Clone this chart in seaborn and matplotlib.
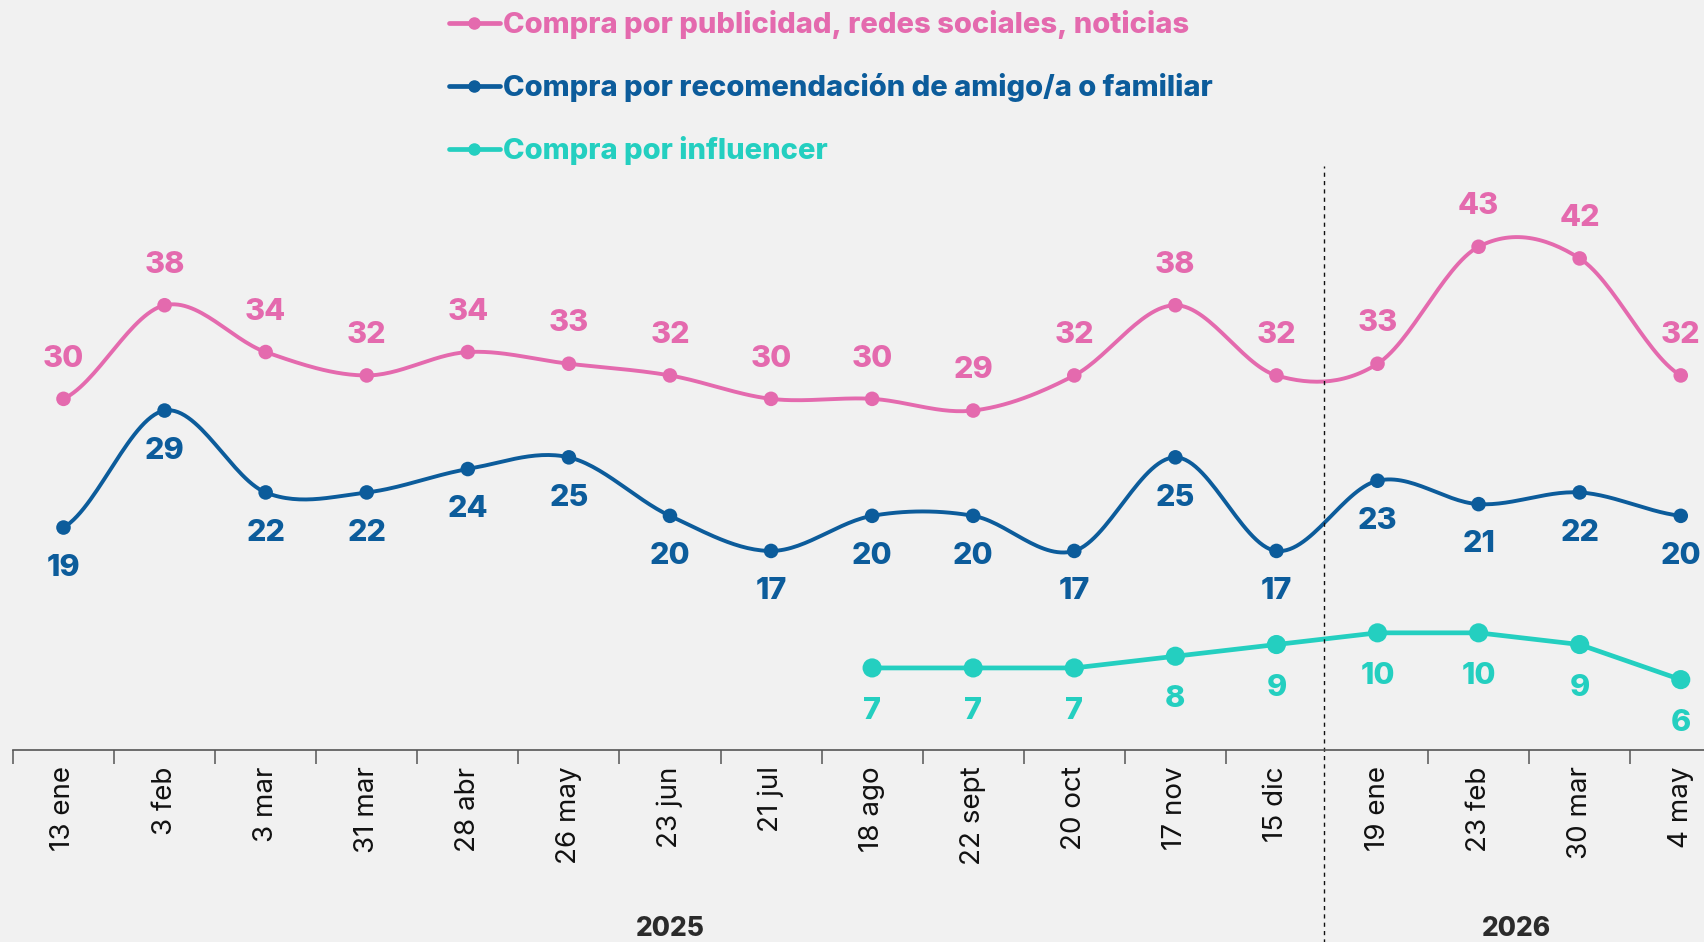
import numpy as np
import pandas as pd
import matplotlib
matplotlib.use("Agg")
import matplotlib.pyplot as plt
import matplotlib.transforms as mtransforms
from matplotlib.lines import Line2D
import seaborn as sns

# --- data -------------------------------------------------------------
fechas = ["13 ene", "3 feb", "3 mar", "31 mar", "28 abr", "26 may", "23 jun",
          "21 jul", "18 ago", "22 sept", "20 oct", "17 nov", "15 dic",
          "19 ene", "23 feb", "30 mar", "4 may"]
publicidad = [30, 38, 34, 32, 34, 33, 32, 30, 30, 29, 32, 38, 32, 33, 43, 42, 32]
recomendacion = [19, 29, 22, 22, 24, 25, 20, 17, 20, 20, 17, 25, 17, 23, 21, 22, 20]
influencer = [np.nan] * 8 + [7, 7, 7, 8, 9, 10, 10, 9, 6]
anios = ["2025", "2026"]

series = [
    ("Compra por publicidad, redes sociales, noticias", publicidad, "#E46AAE"),
    ("Compra por recomendación de amigo/a o familiar", recomendacion, "#0C5C9B"),
    ("Compra por influencer", influencer, "#24CFC0"),
]

BG = "#F1F1F1"
FONT = ["Inter", "DejaVu Sans"]


def catmull_rom(y, n=30):
    """Smooth curve through the points (uniform Catmull-Rom)."""
    y = np.asarray(y, dtype=float)
    p = np.concatenate([[y[0]], y, [y[-1]]])
    xs, ys = [], []
    for i in range(len(y) - 1):
        p0, p1, p2, p3 = p[i], p[i + 1], p[i + 2], p[i + 3]
        m1 = (p2 - p0) / 2
        m2 = (p3 - p1) / 2
        t = np.linspace(0, 1, n, endpoint=(i == len(y) - 2))
        h00 = 2 * t**3 - 3 * t**2 + 1
        h10 = t**3 - 2 * t**2 + t
        h01 = -2 * t**3 + 3 * t**2
        h11 = t**3 - t**2
        xs.append(i + t)
        ys.append(h00 * p1 + h10 * m1 + h01 * p2 + h11 * m2)
    return np.concatenate(xs), np.concatenate(ys)


sns.set_style("white")
plt.rcParams["font.family"] = FONT

fig = plt.figure(figsize=(17.04, 9.42), dpi=100, facecolor=BG)
ax = fig.add_axes([0.0076, 0.204, 0.9924, 0.621])
ax.set_facecolor(BG)

x = np.arange(len(fechas))

for i, (name, vals, col) in enumerate(series):
    vals = np.asarray(vals, dtype=float)
    ok = ~np.isnan(vals)
    xi, yi = x[ok], vals[ok]
    if i < 2:
        cx, cy = catmull_rom(yi)
        cx = cx + xi[0]
        sns.lineplot(x=cx, y=cy, sort=False, color=col, lw=2.8, ax=ax,
                     estimator=None)
        ms = 110
        off = 29 if i == 0 else -29
    else:
        sns.lineplot(x=xi, y=yi, color=col, lw=3.4, ax=ax, estimator=None)
        ms = 190
        off = -31
    sns.scatterplot(x=xi, y=yi, color=col, s=ms, edgecolor="none", ax=ax,
                    zorder=5)
    for xv, yv in zip(xi, yi):
        ax.annotate(f"{yv:.0f}", (xv, yv), xytext=(0, off),
                    textcoords="offset points", ha="center", va="center",
                    fontsize=22, fontweight="heavy", color=col)

ax.set_xlim(-0.5, 16.23)
ax.set_ylim(0, 50)
ax.set_yticks([])
ax.set_xticks(x)
ax.set_xticklabels(fechas, rotation=90, fontsize=20, color="#111111")
minor = [v for v in np.arange(-0.5, 16, 1) if v != 12.5]
ax.set_xticks(minor, minor=True)
ax.tick_params(axis="x", which="major", bottom=True, length=0, pad=12)
ax.tick_params(axis="x", which="minor", bottom=True, length=10, width=1.1,
               color="#555555", direction="out")
ax.set_xlabel("")
ax.set_ylabel("")
for s in ["top", "left", "right"]:
    ax.spines[s].set_visible(False)
ax.spines["bottom"].set_color("#555555")
ax.spines["bottom"].set_linewidth(1.2)

# year separator
trans = mtransforms.blended_transform_factory(ax.transData, ax.transAxes)
ax.plot([12.47, 12.47], [-0.335, 0.998], transform=trans, clip_on=False,
        color="#111111", lw=1, ls=(0, (3, 3)))
ax.text(6, -0.307, anios[0], transform=trans, ha="center", va="center",
        fontsize=19, fontweight="heavy", color="#2b2b2b")
ax.text(14.37, -0.307, anios[1], transform=trans, ha="center", va="center",
        fontsize=19, fontweight="heavy", color="#2b2b2b")

# legend
handles = [Line2D([], [], color=c, lw=3.4, marker="o", markersize=8)
           for _, _, c in series]
leg = fig.legend(handles, [n for n, _, _ in series], loc="upper left",
                 bbox_to_anchor=(0.248, 1.017), frameon=False,
                 prop={"size": 21, "weight": "heavy"}, handlelength=1.75,
                 handletextpad=0.12, labelspacing=1.16)
for t, (_, _, c) in zip(leg.get_texts(), series):
    t.set_color(c)

fig.savefig("out.png", dpi=100, facecolor=BG)
